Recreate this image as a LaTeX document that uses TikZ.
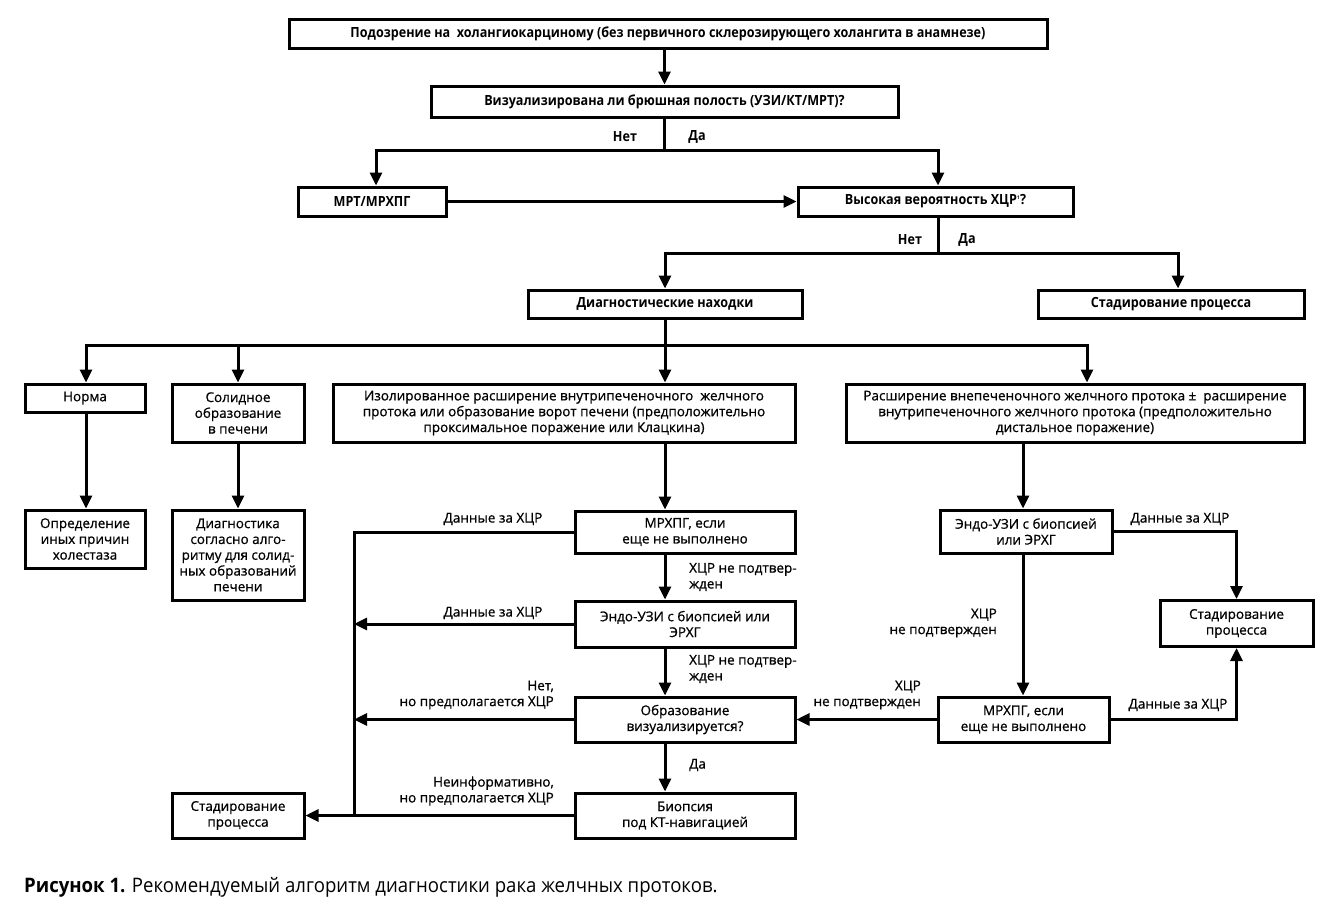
\documentclass[tikz,border=0pt]{standalone}
\usepackage{fontspec}
\setmainfont{Open Sans}[FakeBold=0.8]
\newfontfamily\cfont{Open Sans}[FakeStretch=0.9]
\newfontfamily\capfont{Open Sans}[FakeStretch=0.93]
\usetikzlibrary{arrows.meta}
\tikzset{
  box/.style={draw, line width=3pt, inner sep=1pt, align=center, font=\fontsize{13.5}{15.8}\selectfont},
  cbox/.style={box, font=\cfont\bfseries\fontsize{14}{16}\selectfont},
  line/.style={line width=3pt},
  arr/.style={line width=3pt, -{Triangle[length=13pt,width=12pt]}},
  lbl/.style={inner sep=0pt, align=center, font=\fontsize{13.5}{15.8}\selectfont},
  clbl/.style={lbl, font=\cfont\bfseries\fontsize{14}{16}\selectfont}
}
\begin{document}
\begin{tikzpicture}[x=1pt,y=-1pt]
\useasboundingbox (0,0) rectangle (1334,914);
% nodes
\node[cbox, minimum width=758pt, minimum height=29pt] (top) at (668,33.5) {Подозрение на\ \ холангиокарциному (без первичного склерозирующего холангита в анамнезе)};
\node[cbox, minimum width=467pt, minimum height=31pt] (q1) at (664.5,101.5) {Визуализирована ли брюшная полость (УЗИ/КТ/МРТ)?};
\node[cbox, minimum width=148pt, minimum height=29pt] (mrt) at (372,201.5) {МРТ/МРХПГ};
\node[cbox, minimum width=275pt, minimum height=29pt] (high) at (935.5,201.5) {Высокая вероятность ХЦР\textsuperscript{\tiny 1}?};
\node[cbox, minimum width=274pt, minimum height=28pt] (diag) at (665,304) {Диагностические находки};
\node[cbox, minimum width=266pt, minimum height=28pt] (stR) at (1171,304) {Стадирование процесса};
\node[box, minimum width=120pt, minimum height=28pt] (norm) at (85,398) {Норма};
\node[box, minimum width=132pt, minimum height=58pt] (solid) at (238,413) {Солидное\\образование\\в печени};
\node[box, minimum width=462pt, minimum height=58pt] (iso) at (564,413) {Изолированное расширение внутрипеченочного\ \ желчного\\протока или образование ворот печени (предположительно\\проксимальное поражение или Клацкина)};
\node[box, minimum width=458pt, minimum height=58pt] (ext) at (1075,413) {Расширение внепеченочного желчного протока ±\ \ расширение\\внутрипеченочного желчного протока (предположительно\\дистальное поражение)};
\node[box, minimum width=120pt, minimum height=58pt] (opr) at (85,539) {Определение\\иных причин\\холестаза};
\node[box, minimum width=132pt, minimum height=90pt] (dsol) at (238,555) {Диагностика\\согласно алго-\\ритму для солид-\\ных образований\\печени};
\node[box, minimum width=220pt, minimum height=42pt] (mrcp) at (685,532) {МРХПГ, если\\еще не выполнено};
\node[box, minimum width=220pt, minimum height=46pt] (endo) at (685,624) {Эндо-УЗИ с биопсией или\\ЭРХГ};
\node[box, minimum width=220pt, minimum height=45pt] (obr) at (685,719.5) {Образование\\визуализируется?};
\node[box, minimum width=220pt, minimum height=45pt] (bio) at (685,815.5) {Биопсия\\под КТ-навигацией};
\node[box, minimum width=132pt, minimum height=45pt] (stL) at (238,815.5) {Стадирование\\процесса};
\node[box, minimum width=172pt, minimum height=43pt] (endoR) at (1026,531.5) {Эндо-УЗИ с биопсией\\или ЭРХГ};
\node[box, minimum width=153pt, minimum height=46pt] (stR2) at (1236.5,623.5) {Стадирование\\процесса};
\node[box, minimum width=171pt, minimum height=45pt] (mrcpR) at (1023.5,719.5) {МРХПГ, если\\еще не выполнено};
% helper coordinates
\coordinate (j1) at (664.5,150);
\coordinate (j2) at (938,253);
\coordinate (j3) at (665,345);
\coordinate (cx) at (665,0);
\coordinate (rx) at (1023,0);
\coordinate (vl) at (354,0);
% connectors
\draw[arr] (top.south -| q1.north) -- (q1.north);
\draw[line] (q1.south) -- (j1);
\draw[arr] (j1) -| (mrt.north -| 376,0);
\draw[arr] (j1) -| (high.north -| 938,0);
\draw[arr] (mrt.east) -- (high.west);
\draw[line] (high.south -| j2) -- (j2);
\draw[arr] (j2) -| (diag.north -| cx);
\draw[arr] (j2) -| (stR.north -| 1178,0);
\draw[line] (diag.south -| cx) -- (j3);
\draw[arr] (j3) -| (norm.north -| 86,0);
\draw[arr] (j3) -| (solid.north);
\draw[arr] (j3) -- (iso.north -| cx);
\draw[arr] (j3) -| (ext.north -| 1087,0);
\draw[arr] (norm.south -| 86,0) -- (opr.north -| 86,0);
\draw[arr] (solid.south) -- (dsol.north);
\draw[arr] (iso.south -| cx) -- (mrcp.north -| cx);
\draw[arr] (mrcp.south -| cx) -- (endo.north -| cx);
\draw[arr] (endo.south -| cx) -- (obr.north -| cx);
\draw[arr] (obr.south -| cx) -- (bio.north -| cx);
\draw[line] (mrcp.west) -| (vl |- bio.west);
\draw[arr] (endo.west) -- (endo.west -| vl);
\draw[arr] (obr.west) -- (obr.west -| vl);
\draw[arr] (bio.west) -- (stL.east);
\draw[arr] (ext.south -| rx) -- (endoR.north -| rx);
\draw[arr] (endoR.south -| rx) -- (mrcpR.north -| rx);
\draw[arr] (endoR.east) -| (stR2.north);
\draw[arr] (mrcpR.east) -| (stR2.south);
\draw[arr] (mrcpR.west) -- (obr.east);
% labels
\node[clbl] (l1) at (625,137) {Нет};
\node[clbl] (l2) at (697,137) {Да};
\node[clbl] (l3) at (910,240) {Нет};
\node[clbl] (l4) at (967,240) {Да};
\node[lbl] (l5) at (493,519) {Данные за ХЦР};
\node[lbl, anchor=west, align=left] (l6) at (689,577) {ХЦР не подтвер-\\жден};
\node[lbl] (l7) at (493,613) {Данные за ХЦР};
\node[lbl, anchor=west, align=left] (l8) at (689,669) {ХЦР не подтвер-\\жден};
\node[lbl, anchor=east, align=right] (l9) at (554,695) {Нет,\\но предполагается ХЦР};
\node[lbl, anchor=west] (l10) at (689,765) {Да};
\node[lbl, anchor=east, align=right] (l11) at (554,791) {Неинформативно,\\но предполагается ХЦР};
\node[lbl] (l12) at (1180,519) {Данные за ХЦР};
\node[lbl, anchor=east, align=right] (l13) at (997,623) {ХЦР\\не подтвержден};
\node[lbl, anchor=east, align=right] (l14) at (921,695) {ХЦР\\не подтвержден};
\node[lbl] (l15) at (1178,705) {Данные за ХЦР};
\node[anchor=west, inner sep=0pt, font=\capfont\fontsize{20}{22}\selectfont] (cap) at (24,887) {{\bfseries Рисунок 1.} Рекомендуемый алгоритм диагностики рака желчных протоков.};
\end{tikzpicture}
\end{document}
